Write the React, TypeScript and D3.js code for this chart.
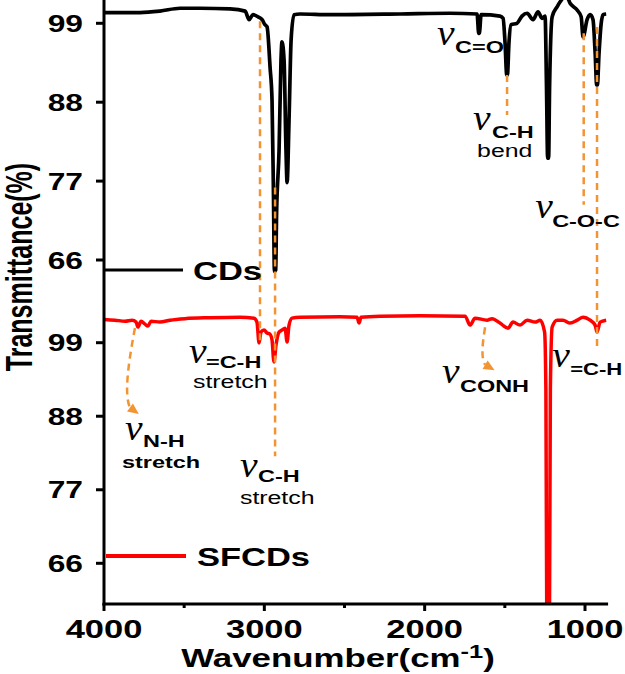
import React from "react";
import * as d3 from "d3";

// ---------- data ----------
const cdsWavenumber = [4000, 3775, 3651, 3526, 3401, 3214, 3120, 3095, 3071, 3039, 3014, 2996, 2983, 2964, 2952, 2943, 2937, 2929, 2924, 2908, 2896, 2890, 2877, 2865, 2858, 2846, 2833, 2815, 2777, 2590, 2154, 1842, 1673, 1663, 1659, 1648, 1530, 1511, 1499, 1488, 1484, 1474, 1461, 1424, 1393, 1361, 1324, 1293, 1268, 1249, 1240, 1233, 1227, 1221, 1205, 1174, 1155, 1130, 1112, 1093, 1049, 1024, 1012, 987, 968, 950, 937, 927, 923, 912, 900, 887, 868];
const cdsTransmittance = [100.5, 100.5, 100.7, 101.1, 101.1, 101.0, 100.7, 99.5, 100.2, 99.9, 99.5, 98.8, 98.5, 92.8, 88.3, 75, 64.4, 64.6, 72, 81.4, 93.9, 96.4, 93.9, 81.4, 76.8, 85.5, 96.7, 100.2, 100.3, 100.2, 100.3, 100.4, 100.3, 97.6, 97.6, 100.2, 100.0, 99.7, 96.4, 91.8, 91.8, 96.4, 98.8, 99.0, 100.0, 100.4, 99.5, 100.6, 99.7, 100.0, 90, 80.2, 80.2, 90, 99.9, 101.3, 102.0, 102.6, 102.6, 101.8, 100.85, 99.9, 97.1, 99.5, 100.2, 99.5, 95, 90.4, 90.4, 95, 98.8, 100.2, 100.3];

const sfcdsWavenumber = [4000, 3931, 3869, 3825, 3800, 3788, 3769, 3744, 3726, 3707, 3651, 3588, 3495, 3339, 3152, 3064, 3046, 3033, 3021, 3002, 2983, 2965, 2952, 2940, 2927, 2908, 2890, 2871, 2858, 2846, 2827, 2777, 2528, 2422, 2409, 2397, 2278, 2029, 1748, 1717, 1686, 1611, 1580, 1530, 1480, 1449, 1405, 1361, 1311, 1280, 1252, 1244, 1238, 1230, 1222, 1216, 1205, 1174, 1137, 1093, 1049, 1012, 968, 937, 925, 906, 868];
const sfcdsTransmittance = [102.48, 102.37, 102.22, 102.37, 102.08, 101.33, 102.22, 101.78, 101.48, 102.22, 102.08, 102.37, 102.6, 102.74, 102.82, 102.67, 102.08, 98.96, 100.59, 100.89, 100.44, 100.29, 99.4, 96.13, 98.66, 100.59, 100.89, 101.18, 99.1, 101.63, 102.67, 102.82, 102.89, 102.82, 101.93, 102.82, 102.97, 103.04, 102.97, 101.63, 102.67, 102.37, 102.6, 101.93, 101.18, 102.08, 101.63, 102.37, 102.08, 102.37, 100.6, 92, 55, 50, 55, 92, 101.33, 102.37, 102.37, 101.93, 102.37, 102.82, 102.37, 101.63, 100.59, 102.08, 102.37];

const xTicksMajor = [4000, 3000, 2000, 1000];
const xTicksMinor = [3500, 2500, 1500];
const yTicks = [99, 88, 77, 66];

const seriesNames = ["CDs", "SFCDs"];
const seriesColors = ["#000000", "#ff0000"];

// dashed guide lines (wavenumber, start value in top panel, end panel, end value)
const dashWavenumber = [3027, 2933, 1486, 1008, 925];
const dashFrom = [99.3, 76.1, 91.8, 97.6, 98.5];
const dashToPanel = ["bottom", "bottom", "top", "top", "bottom"];
const dashTo = [99.0, 82.0, 86.2, 73.7, 97.9];

// curved arrows in the bottom panel: [start, ctrl1, ctrl2, end] (wavenumber, value)
const arrowNH = [[3807, 101.2], [3850, 95.7], [3875, 91.2], [3838, 89.3]];
const arrowCONH = [[1623, 101.3], [1642, 98.6], [1648, 96.7], [1623, 95.7]];

// peak labels
const labelSub = ["C=O", "C-H", "C-O-C", "=C-H", "N-H", "C-H", "CONH", "=C-H"];
const labelPanel = ["top", "top", "top", "bottom", "bottom", "bottom", "bottom", "bottom"];
const labelWavenumber = [1923, 1698, 1311, 3470, 3869, 3152, 1892, 1205];
const labelValue = [96.0, 84.1, 71.9, 96.0, 84.5, 78.9, 93.0, 95.4];
const labelNote = ["", "bend", "", "stretch", "stretch", "stretch", "", ""];
const labelNoteBold = [false, false, false, false, true, false, false, false];

// ---------- layout ----------
const W = 625;
const H = 674;
const SX = 1.38;
const SANS = "'Liberation Sans', Arial, Helvetica, sans-serif";
const SERIF = "'Liberation Serif', 'Times New Roman', serif";
const ORANGE = "#f39432";
const AXIS_Y = 604;
const AXIS_X = 104;

const subOffset = [[18, 8], [19, 8], [17, 9], [17, 5], [18, 7], [18, 5], [18, 9], [18, 8]];
const noteOffset = [[0, 0], [4, 27], [0, 0], [4, 25], [-3, 28], [0, 27], [0, 0], [0, 0]];

const x = d3.scaleLinear().domain([4000, 1000]).range([104, 585]);
const xEnd = 856;
const yTop = d3.scaleLinear().domain([66, 99]).range([260, 23.3]);
const yBot = d3.scaleLinear().domain([66, 99]).range([563.3, 342.7]);
const yOf = (panel: string) => (panel === "top" ? yTop : yBot);

function ST(props: any) {
  const { x: px, y: py, sx = SX, children, ...rest } = props;
  return (
    <text transform={`translate(${px},${py}) scale(${sx},1)`} {...rest}>
      {children}
    </text>
  );
}

function Arrow({ pts }: { pts: number[][] }) {
  const p = pts.map((d) => [x(d[0]), yBot(d[1])]);
  const path = d3.path();
  path.moveTo(p[0][0], p[0][1]);
  path.bezierCurveTo(p[1][0], p[1][1], p[2][0], p[2][1], p[3][0], p[3][1]);
  const [ex, ey] = p[3];
  const ang = Math.atan2(ey - p[2][1], ex - p[2][0]) - 0.5;
  const L = 11, Wd = 5;
  const tip = [ex + Math.cos(ang) * L, ey + Math.sin(ang) * L];
  const nx = -Math.sin(ang), ny = Math.cos(ang);
  const b1 = [ex + nx * Wd, ey + ny * Wd];
  const b2 = [ex - nx * Wd, ey - ny * Wd];
  return (
    <g>
      <path d={path.toString()} fill="none" stroke={ORANGE} strokeWidth={2.5} strokeDasharray="7,5" />
      <polygon points={`${tip[0]},${tip[1]} ${b1[0]},${b1[1]} ${b2[0]},${b2[1]}`} fill={ORANGE} />
    </g>
  );
}

export default function App() {
  const cds = cdsWavenumber.map((w, i) => [w, cdsTransmittance[i]] as [number, number]);
  const sf = sfcdsWavenumber.map((w, i) => [w, sfcdsTransmittance[i]] as [number, number]);
  const lineTop = d3.line<[number, number]>().x((d) => x(d[0])).y((d) => yTop(d[1])).curve(d3.curveMonotoneX);
  const lineBot = d3.line<[number, number]>().x((d) => x(d[0])).y((d) => yBot(d[1])).curve(d3.curveMonotoneX);

  return (
    <svg width={W} height={H} style={{ position: "absolute", left: 0, top: 0, background: "#fff" }}>
      <defs>
        <clipPath id="botclip">
          <rect x={AXIS_X} y={295} width={x(xEnd) - AXIS_X + 4} height={AXIS_Y - 295} />
        </clipPath>
        <clipPath id="topclip">
          <rect x={AXIS_X} y={0} width={x(xEnd) - AXIS_X + 4} height={295} />
        </clipPath>
      </defs>

      {/* spectra */}
      <path d={lineTop(cds) || ""} fill="none" stroke={seriesColors[0]} strokeWidth={3.7} strokeLinejoin="round" clipPath="url(#topclip)" />
      <path d={lineBot(sf) || ""} fill="none" stroke={seriesColors[1]} strokeWidth={3.5} strokeLinejoin="round" clipPath="url(#botclip)" />

      {/* dashed guides */}
      {dashWavenumber.map((w, i) => (
        <line
          key={"d" + i}
          x1={x(w)}
          x2={x(w)}
          y1={yTop(dashFrom[i])}
          y2={yOf(dashToPanel[i])(dashTo[i])}
          stroke={ORANGE}
          strokeWidth={2.5}
          strokeDasharray="7,5"
        />
      ))}
      <Arrow pts={arrowNH} />
      <Arrow pts={arrowCONH} />

      {/* axes */}
      <line x1={AXIS_X} x2={AXIS_X} y1={0} y2={AXIS_Y + 1.5} stroke="#000" strokeWidth={3} />
      <line x1={AXIS_X - 1.5} x2={x(xEnd)} y1={AXIS_Y} y2={AXIS_Y} stroke="#000" strokeWidth={3} />
      {xTicksMajor.map((t) => (
        <g key={"xt" + t}>
          <line x1={x(t)} x2={x(t)} y1={AXIS_Y} y2={AXIS_Y + 7} stroke="#000" strokeWidth={3} />
          <ST x={x(t)} y={638} textAnchor="middle" fontFamily={SANS} fontWeight="bold" fontSize={25}>
            {t}
          </ST>
        </g>
      ))}
      {xTicksMinor.map((t) => (
        <line key={"xm" + t} x1={x(t)} x2={x(t)} y1={AXIS_Y} y2={AXIS_Y + 4} stroke="#000" strokeWidth={3} />
      ))}
      {[yTop, yBot].map((sc, k) =>
        yTicks.map((t) => (
          <g key={"yt" + k + t}>
            <line x1={AXIS_X - 8} x2={AXIS_X} y1={sc(t)} y2={sc(t)} stroke="#000" strokeWidth={3} />
            <ST x={83} y={sc(t) + 8.5} textAnchor="end" fontFamily={SANS} fontWeight="bold" fontSize={23}>
              {t}
            </ST>
          </g>
        ))
      )}

      {/* axis titles */}
      <ST x={338} y={667} sx={1.34} textAnchor="middle" fontFamily={SANS} fontWeight="bold" fontSize={26}>
        Wavenumber(cm
        <tspan fontSize={19} dy={-9}>-1</tspan>
        <tspan dy={9}>)</tspan>
      </ST>
      <text
        transform={`translate(32,267) scale(1.45,1) rotate(-90)`}
        textAnchor="middle"
        fontFamily={SANS}
        fontWeight="bold"
        fontSize={25}
      >
        Transmittance(%)
      </text>

      {/* legends */}
      <line x1={AXIS_X} x2={183} y1={270} y2={270} stroke={seriesColors[0]} strokeWidth={3} />
      <ST x={193} y={280} fontFamily={SANS} fontWeight="bold" fontSize={25}>
        {seriesNames[0]}
      </ST>
      <line x1={106} x2={186} y1={556} y2={556} stroke={seriesColors[1]} strokeWidth={4} />
      <ST x={197} y={566} fontFamily={SANS} fontWeight="bold" fontSize={25}>
        {seriesNames[1]}
      </ST>

      {/* peak labels */}
      {labelSub.map((s, i) => {
        const px = x(labelWavenumber[i]);
        const py = yOf(labelPanel[i])(labelValue[i]);
        return (
          <g key={"l" + i}>
            <ST x={px} y={py} sx={1.1} fontFamily={SERIF} fontStyle="italic" fontSize={36}>
              ν
            </ST>
            <ST x={px + subOffset[i][0]} y={py + subOffset[i][1]} fontFamily={SANS} fontWeight="bold" fontSize={i === 7 ? 16 : 17}>
              {s}
            </ST>
            {labelNote[i] && (
              <ST
                x={px + noteOffset[i][0]}
                y={py + noteOffset[i][1]}
                fontFamily={SANS}
                fontWeight={labelNoteBold[i] ? "bold" : "normal"}
                fontSize={labelNoteBold[i] ? 17 : 18}
              >
                {labelNote[i]}
              </ST>
            )}
          </g>
        );
      })}
    </svg>
  );
}
